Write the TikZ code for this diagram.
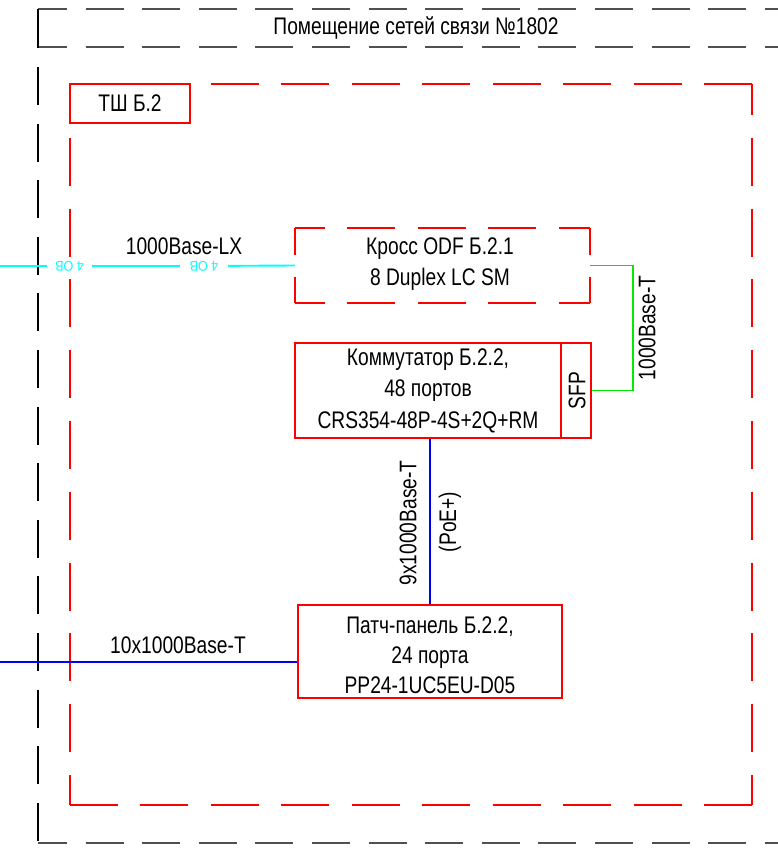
\documentclass[tikz,border=0pt]{standalone}
\usepackage{fontspec}
\setmainfont{Liberation Sans}[FakeStretch=0.8]
\newfontfamily\cyanfont{Liberation Sans}[FakeStretch=0.9]
\definecolor{cadred}{RGB}{255,0,0}
\definecolor{cadcyan}{RGB}{0,255,255}
\definecolor{cadgreen}{RGB}{0,235,0}
\definecolor{cadblue}{RGB}{0,0,255}
\definecolor{framegray}{RGB}{80,80,80}
\begin{document}
\begin{tikzpicture}[x=1pt,y=-1pt,
  txt/.style={font=\fontsize{24}{31.5}\selectfont, inner sep=0pt, align=center},
  lbl/.style={font=\fontsize{24}{28}\selectfont, inner sep=0pt},
  smalltxt/.style={font=\cyanfont\fontsize{14}{16}\selectfont, text=cadcyan, inner sep=0pt},
  redline/.style={draw=cadred, line width=1.9pt},
  solidbox/.style={draw=cadred, line width=1.9pt, rectangle, inner sep=0pt},
  openbox/.style={rectangle, inner sep=0pt},
  framehor/.style={draw=framegray, line width=1.7pt, dash pattern=on 38pt off 18.6pt, dash phase=9pt},
  framever/.style={draw=black, line width=1.2pt},
  bigdashH/.style={redline, dash pattern=on 48pt off 22.44pt},
  bigdashV/.style={redline, dash pattern=on 48pt off 22.8pt, dash phase=17pt},
  odfdashH/.style={redline, dash pattern=on 48pt off 22.5pt, dash phase=18pt},
  odfdashV/.style={redline, dash pattern=on 48pt off 22.5pt, dash phase=21pt},
  cyanline/.style={draw=cadcyan, line width=1.9pt},
  greenline/.style={draw=cadgreen, line width=1.7pt},
  blueline/.style={draw=cadblue, line width=1.9pt}
]
\useasboundingbox (0,0) rectangle (777,850);

% outer room frame
\coordinate (fTL) at (38,9);
\coordinate (fTR) at (800,9);
\coordinate (fML) at (38,47);
\coordinate (fMR) at (800,47);
\coordinate (fBL) at (38,843);
\coordinate (fBR) at (800,843);
\draw[framehor] (fTL) -- (fTR);
\draw[framehor] (fML) -- (fMR);
\draw[framehor] (fBL) -- (fBR);
\draw[framever] (fTL) -- (fML);
\draw[framever, dash pattern=on 38pt off 18.6pt, dash phase=36.6pt] (fML) -- (fBL);
\node[lbl] (title) at (416,28) {Помещение сетей связи №1802};

% cabinet frame
\coordinate (cTL) at (70,84);
\coordinate (cTR) at (752,84);
\coordinate (cBL) at (70,805);
\coordinate (cBR) at (752,805);
\draw[bigdashH] (cTL) -- (cTR);
\draw[bigdashH] (cBL) -- (cBR);
\draw[bigdashV] (cTL) -- (cBL);
\draw[bigdashV] (cTR) -- (cBR);
\node[solidbox, fill=white, minimum width=120pt, minimum height=39pt, lbl] (tsh) at (130,103.5) {ТШ Б.2};

% ODF
\node[openbox, minimum width=295pt, minimum height=75pt] (odf) at (442.5,265.5) {};
\draw[odfdashH] (odf.north west) -- (odf.north east);
\draw[odfdashH] (odf.south west) -- (odf.south east);
\draw[odfdashV] (odf.north west) -- (odf.south west);
\draw[odfdashV] (odf.north east) -- (odf.south east);
\node[txt] (odftext) at (440,264) {Кросс ODF Б.2.1\\8 Duplex LC SM};

% switch
\node[solidbox, minimum width=266pt, minimum height=95pt] (sw) at (428,390.5) {};
\node[txt] (swtext) at (428,390.5) {Коммутатор Б.2.2,\\48 портов\\CRS354-48P-4S+2Q+RM};
\node[solidbox, minimum width=30pt, minimum height=95pt] (sfp) at (576,390.5) {};
\node[lbl, rotate=90] (sfptext) at (577,390.5) {SFP};

% patch panel
\node[solidbox, minimum width=264pt, minimum height=93pt] (pp) at (430,651.5) {};
\node[txt, font=\fontsize{24}{30}\selectfont] (pptext) at (430,655) {Патч-панель Б.2.2,\\24 порта\\PP24-1UC5EU-D05};

% cyan optical line
\coordinate (cyanL) at (0,266);
\node[smalltxt, rotate=180, minimum width=45pt] (fib1) at (69.5,266) {4 ОВ};
\node[smalltxt, rotate=180, minimum width=48pt] (fib2) at (204,266) {4 ОВ};
\draw[cyanline] (cyanL) -- (fib1);
\draw[cyanline] (fib1) -- (fib2);
\draw[cyanline] (fib2) -- (odf.west);
\node[lbl] (lxlbl) at (184,246) {1000Base-LX};

% green link
\coordinate (g1) at (633,265.5);
\draw[greenline] (odf.east) -- (g1) |- (sfp.east);
\node[lbl, rotate=90] (glbl) at (647,328) {1000Base-T};

% blue vertical
\draw[blueline] (sw.south -| pp.north) -- (pp.north);
\node[lbl, rotate=90] (vlbl1) at (408,523) {9x1000Base-T};
\node[lbl, rotate=90] (vlbl2) at (450,522) {(PoE+)};

% blue horizontal
\coordinate (bL) at (0,662);
\draw[blueline] (bL) -- (bL -| pp.west);
\node[lbl] (hlbl) at (178,645) {10x1000Base-T};
\end{tikzpicture}
\end{document}
